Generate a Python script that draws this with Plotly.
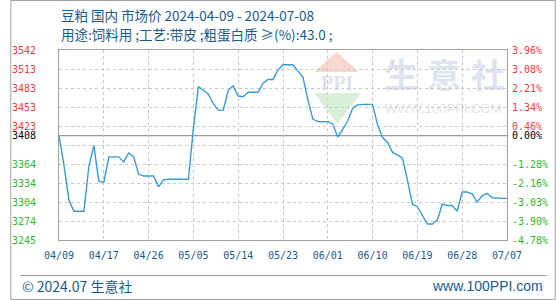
import plotly.graph_objects as go

# ---------------- data ----------------
days = list(range(91))  # day offset from 2024-04-09
prices = [
    3408, 3362, 3307, 3290, 3290, 3290, 3360, 3393, 3337, 3335,
    3375, 3375, 3375, 3367, 3381, 3375, 3348, 3345, 3345, 3345,
    3328, 3339, 3340, 3340, 3340, 3340, 3340, 3420, 3485, 3479,
    3473, 3458, 3448, 3448, 3479, 3486, 3470, 3469, 3476, 3476,
    3476, 3490, 3496, 3496, 3511, 3519, 3519, 3519, 3509, 3500,
    3464, 3434, 3430, 3430, 3430, 3426, 3406, 3418, 3431, 3451,
    3456, 3457, 3457, 3457, 3425, 3405, 3398, 3382, 3378, 3373,
    3339, 3301, 3297, 3284, 3270, 3270, 3276, 3301, 3299, 3299,
    3290, 3320, 3320, 3317, 3304, 3314, 3318, 3311, 3310, 3310,
    3310,
]
x_tick_days = [0, 9, 18, 27, 36, 45, 54, 63, 72, 81, 90]
x_tick_labels = ["04/09", "04/17", "04/26", "05/05", "05/14", "05/23",
                 "06/01", "06/10", "06/19", "06/28", "07/07"]
BASE = 3408
Y_MIN, Y_MAX = 3245, 3542
y_tick_vals = [3542, 3512.3, 3482.6, 3452.9, 3423.2, 3408,
               3363.8, 3334.1, 3304.4, 3274.7, 3245]
y_tick_labels = ["3542", "3513", "3483", "3453", "3423", "3408",
                 "3364", "3334", "3304", "3274", "3245"]
pct_labels = ["3.96%", "3.08%", "2.21%", "1.34%", "0.46%", "0.00%",
              "-1.28%", "-2.16%", "-3.03%", "-3.90%", "-4.78%"]
grid_vals = [Y_MIN + (Y_MAX - Y_MIN) * i / 10 for i in range(11)]

title1 = "豆粕 国内 市场价 2024-04-09 - 2024-07-08"
title2 = "用途:饲料用 ;工艺:带皮 ;粗蛋白质 ≥(%):43.0 ;"
footer_left = "© 2024.07 生意社"
footer_right = "www.100PPI.com"

# ---------------- styling helpers ----------------
RED = "#f03c3c"
GREEN = "#2eb82e"
BLUE_TXT = "#1a5a8a"


def colored(labels, vals):
    out = []
    for lab, v in zip(labels, vals):
        if abs(v - BASE) < 0.5:
            c = "#000000"
        elif v > BASE:
            c = RED
        else:
            c = GREEN
        out.append(f"<span style='color:{c}'>{lab}</span>")
    return out


# plot area pixel geometry
L, T, W, H = 50, 50, 460, 190


def px(xp):
    return (xp - L) / W


def py(yp):
    return 1 - (yp - T) / H


fig = go.Figure()

fig.add_trace(go.Scatter(
    x=days, y=prices, mode="lines",
    line=dict(color="#3a9ad9", width=1.4),
    hoverinfo="skip", showlegend=False,
))
fig.add_trace(go.Scatter(
    x=[days[0]], y=[BASE], yaxis="y2", mode="markers",
    marker=dict(opacity=0), hoverinfo="skip", showlegend=False,
))

mono = "DejaVu Sans Mono"

fig.update_layout(
    width=560, height=300,
    margin=dict(l=L, r=560 - L - W, t=T, b=300 - T - H),
    paper_bgcolor="white", plot_bgcolor="white",
    xaxis=dict(
        range=[0, 90], tickmode="array", tickvals=x_tick_days,
        ticktext=x_tick_labels, showgrid=True, gridcolor="#c8c8c8",
        griddash="3px,3px", gridwidth=1, ticks="",
        showline=True, linecolor="#a0a0a0", linewidth=1, mirror=True,
        tickfont=dict(family=mono, size=10, color=BLUE_TXT),
        ticklabelstandoff=6, zeroline=False, fixedrange=True,
    ),
    yaxis=dict(
        range=[Y_MIN, Y_MAX], tickmode="array", tickvals=y_tick_vals,
        ticktext=colored(y_tick_labels, y_tick_vals), showgrid=False,
        ticks="", showline=True, linecolor="#a0a0a0", linewidth=1,
        mirror=True, zeroline=False,
        tickfont=dict(family=mono, size=10, color="#000"),
        ticklabelstandoff=20,
        minor=dict(tickmode="array", tickvals=grid_vals, showgrid=True,
                   gridcolor="#c8c8c8", griddash="3px,3px", gridwidth=1,
                   ticks=""),
    ),
    yaxis2=dict(
        range=[Y_MIN, Y_MAX], overlaying="y", side="right",
        tickmode="array", tickvals=y_tick_vals,
        ticktext=colored(pct_labels, y_tick_vals), showgrid=False,
        ticks="", showline=False, zeroline=False,
        tickfont=dict(family=mono, size=10, color="#000"),
        ticklabelstandoff=4,
    ),
)

# baseline at BASE
fig.add_shape(type="line", xref="paper", yref="y", x0=0, x1=1,
              y0=BASE, y1=BASE, line=dict(color="#999999", width=1.2),
              layer="below")

# watermark logo (decoration)
fig.add_shape(type="path", xref="paper", yref="paper", layer="below",
              path=f"M {px(312)} {py(72)} L {px(335)} {py(52)} L {px(358)} {py(72)} Z",
              fillcolor="#f8d6d2", line=dict(width=0))
fig.add_shape(type="path", xref="paper", yref="paper", layer="below",
              path=f"M {px(312)} {py(93)} L {px(360)} {py(93)} L {px(336)} {py(124)} Z",
              fillcolor="#d8efd8", line=dict(width=0))
fig.add_annotation(xref="paper", yref="paper", x=px(335), y=py(83),
                   xanchor="center", yanchor="middle",
                   text="<b>PPI</b>", showarrow=False,
                   font=dict(family="Liberation Serif", size=20,
                             color="rgba(190,200,222,0.55)"))
for ch, cx in zip("生意社", [401, 445, 490]):
    fig.add_annotation(xref="paper", yref="paper", x=px(cx), y=py(73),
                       xanchor="center", yanchor="middle",
                       text=f"<b>{ch}</b>", showarrow=False,
                       font=dict(family="Noto Sans CJK SC", size=34,
                                 color="rgba(190,200,222,0.5)"))
fig.add_annotation(xref="paper", yref="paper", x=px(444), y=py(108),
                   xanchor="center", yanchor="middle",
                   text="WWW.100PPI.COM", showarrow=False,
                   font=dict(family="Liberation Sans", size=13,
                             color="rgba(200,200,200,0.5)"))

# titles
fig.add_annotation(xref="paper", yref="paper", x=px(50), y=py(14.7),
                   xanchor="left", yanchor="middle", text=title1,
                   showarrow=False,
                   font=dict(family="Noto Sans CJK SC", size=13.5, color=BLUE_TXT))
fig.add_annotation(xref="paper", yref="paper", x=px(50), y=py(34),
                   xanchor="left", yanchor="middle", text=title2,
                   showarrow=False,
                   font=dict(family="Noto Sans CJK SC", size=13.5, color=BLUE_TXT))

# footer
fig.add_shape(type="line", xref="paper", yref="paper",
              x0=px(10), x1=px(551), y0=py(275.5), y1=py(275.5),
              line=dict(color="#a0a0a0", width=1))
fig.add_annotation(xref="paper", yref="paper", x=px(10), y=py(285.5),
                   xanchor="left", yanchor="middle", text=footer_left,
                   showarrow=False,
                   font=dict(family="Noto Sans CJK SC", size=14, color=BLUE_TXT))
fig.add_annotation(xref="paper", yref="paper", x=px(549), y=py(285.5),
                   xanchor="right", yanchor="middle", text=footer_right,
                   showarrow=False,
                   font=dict(family="Liberation Sans", size=14, color=BLUE_TXT))

# outer border
fig.add_shape(type="rect", xref="paper", yref="paper",
              x0=px(0.5), x1=px(559.5), y0=py(299.5), y1=py(0.5),
              line=dict(color="#a0a0a0", width=1))

fig.write_html("out.html", config={"displayModeBar": False})
